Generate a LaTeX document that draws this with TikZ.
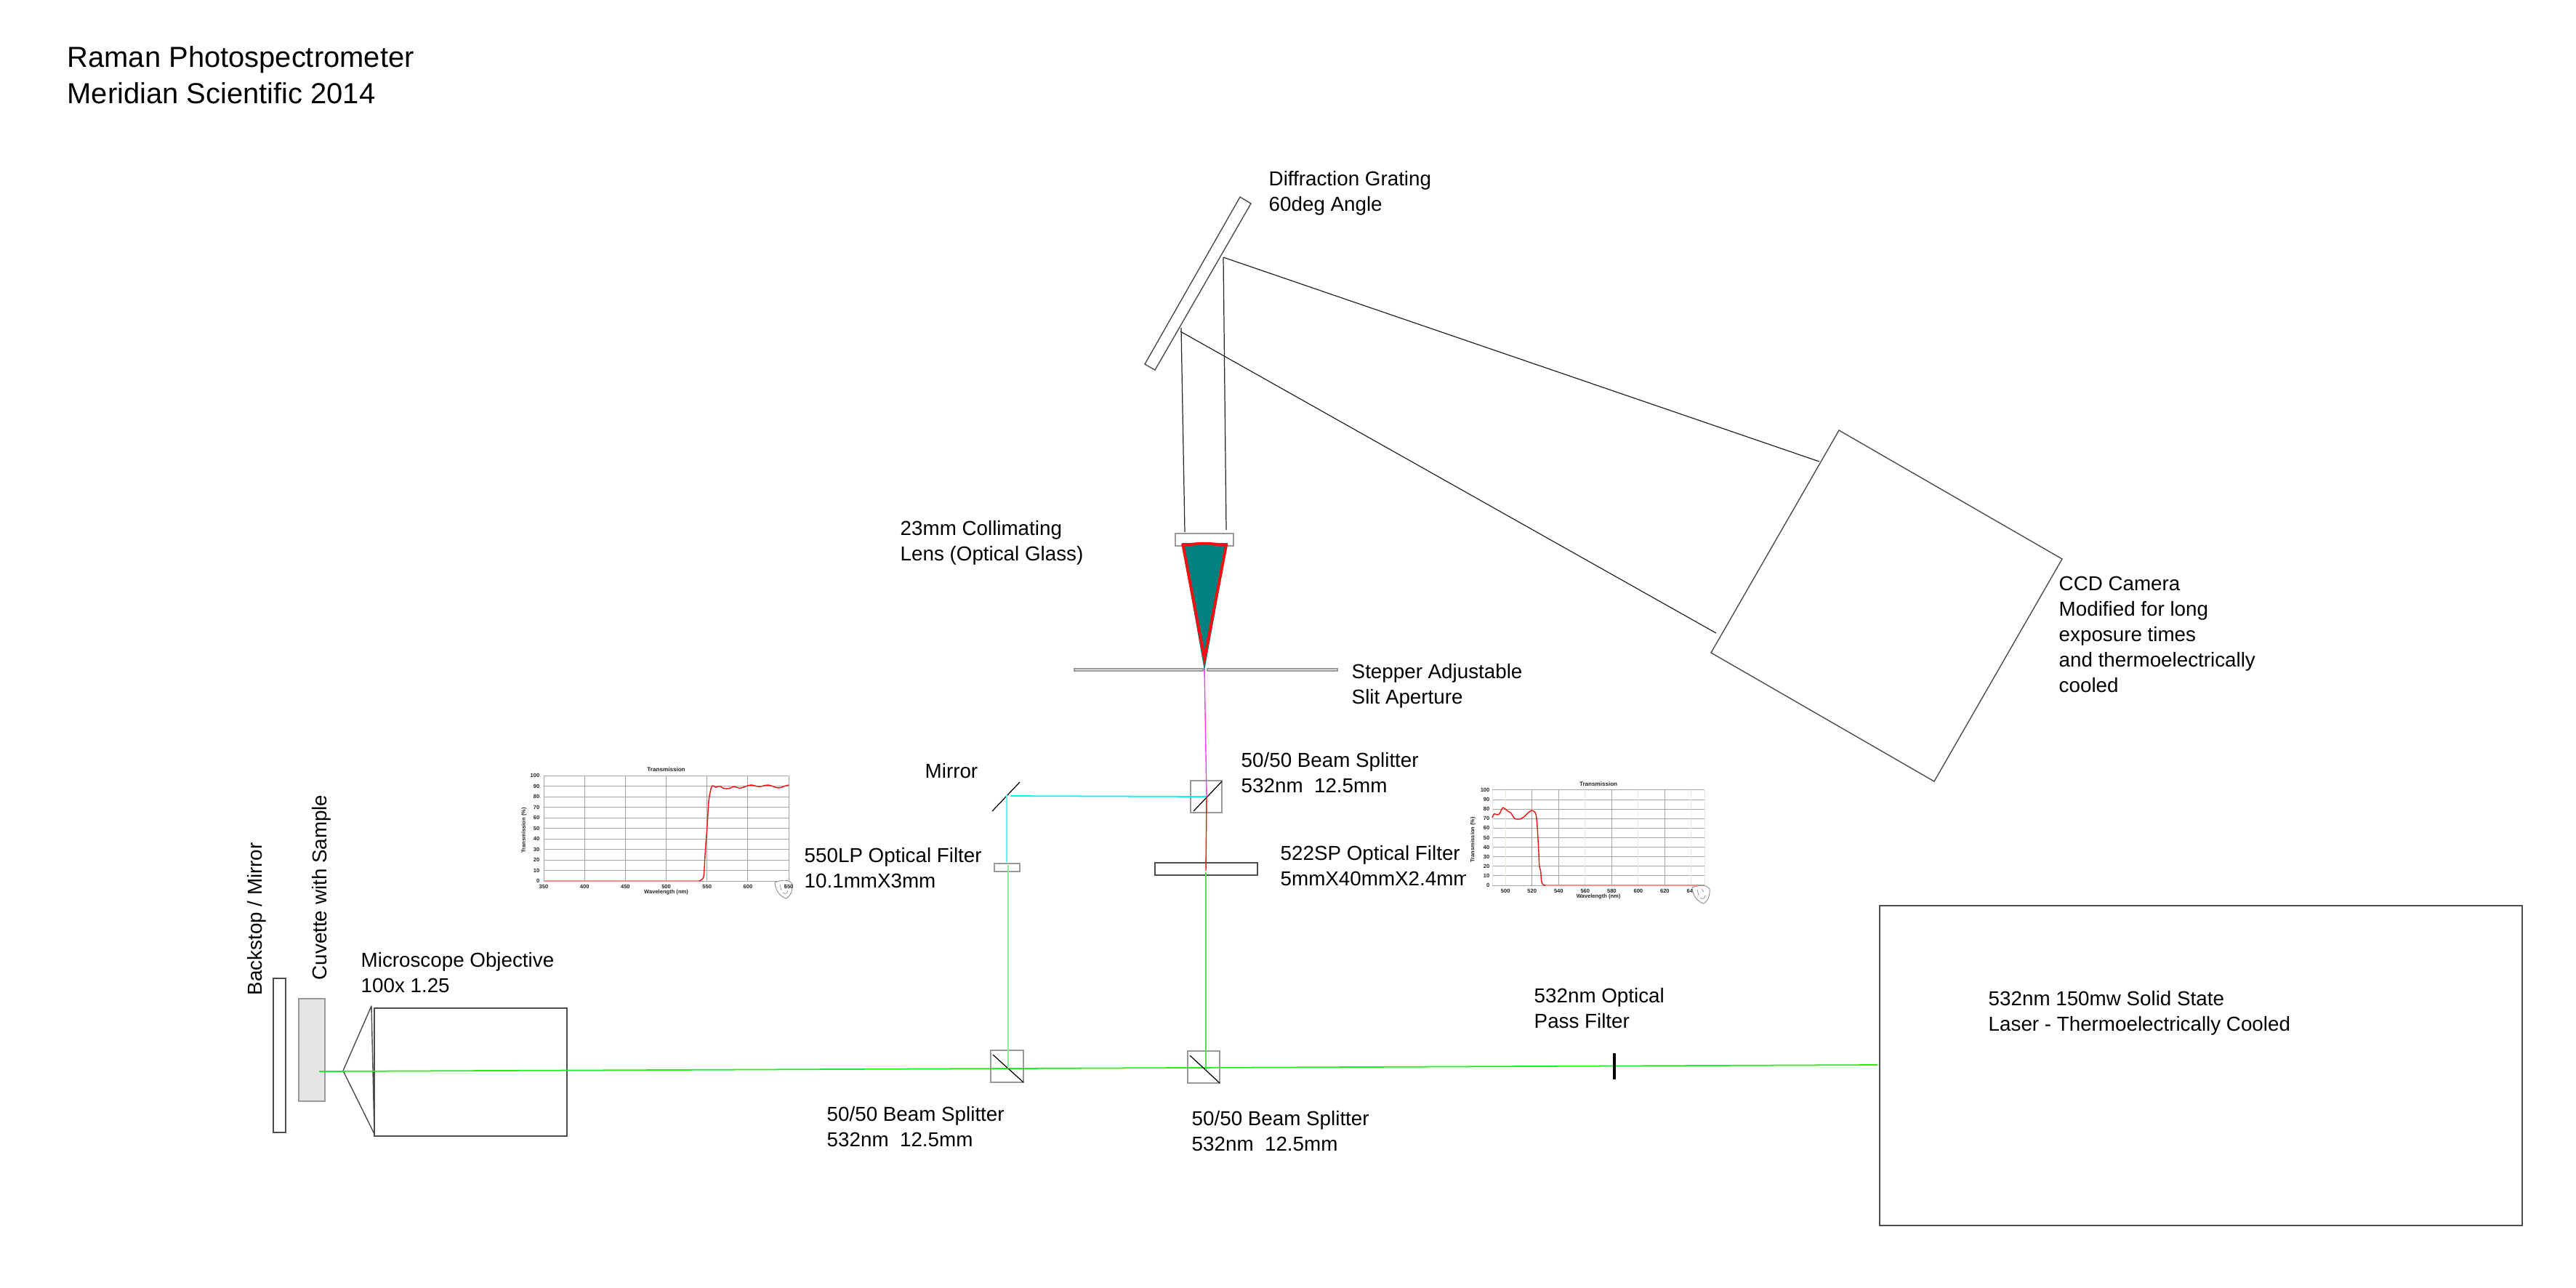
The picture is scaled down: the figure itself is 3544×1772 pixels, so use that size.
\documentclass[tikz,border=0pt]{standalone}
\usepackage{fontspec}
\setmainfont{Liberation Sans}
\usetikzlibrary{positioning}

\definecolor{beamgreen}{RGB}{30,240,30}
\definecolor{palegreen}{RGB}{140,240,140}
\definecolor{midgreen}{RGB}{85,225,85}
\definecolor{beamcyan}{RGB}{0,245,245}
\definecolor{palecyan}{RGB}{110,240,240}
\definecolor{beamred}{RGB}{245,15,15}
\definecolor{beammagenta}{RGB}{245,60,245}
\definecolor{lensteal}{RGB}{0,128,128}

\tikzset{
    label text/.style={inner sep=0pt, anchor=north west, align=left, font=\fontsize{7.9}{9.96}\selectfont},
    part/.style={draw=black!70, line width=0.4pt},
    soft part/.style={draw=black!40, line width=0.45pt},
    ray/.style={draw=black!85, line width=0.35pt},
    splitter/.style={draw=black, line width=0.35pt},
    green beam/.style={draw=beamgreen, line width=0.5pt},
    pale beam/.style={draw=palegreen, line width=0.65pt},
    tick text/.style={inner sep=0pt, font=\fontsize{2.15}{2.5}\selectfont\bfseries, text=black!85},
    head text/.style={inner sep=0pt, font=\fontsize{2.3}{2.6}\selectfont\bfseries, text=black!85},
    grid line/.style={draw=black!35, line width=0.25pt},
    pale grid/.style={draw=brown!20, line width=0.25pt},
    trace/.style={draw=beamred, line width=0.4pt, line join=round},
    stamp/.pic={
        \draw[fill=white, draw=black!45, line width=0.25pt] (-12,-9) .. controls (-2,-13) and (8,-13) .. (12,-7) .. controls (13,2) and (9,11) .. (3,13) .. controls (-4,10) and (-11,4) .. (-12,-9) -- cycle;
        \draw[draw=black!45, line width=0.2pt] (-5,-6) -- (-3,2) (1,-7) -- (4,-3) (-1,5) .. controls (2,8) and (6,6) .. (6,2);
    }
}

\begin{document}
\begin{tikzpicture}[x=0.01cm, y=-0.01cm]
    \useasboundingbox (0,0) rectangle (3544,1772);

    % title
    \node[label text, font=\fontsize{11.35}{14.2}\selectfont] (title) at (92,63) {Raman Photospectrometer\\Meridian Scientific 2014};

    % sample end
    \draw[part] (376,1346) rectangle (393,1558);
    \draw[soft part, fill=black!10] (411,1374) rectangle (447,1515);
    \draw[part] (515,1387) rectangle (780,1563);
    \draw[part, line join=round] (515,1560) -- (472,1473) -- (511,1384) -- cycle;
    \node[label text, rotate=90] (backstop) at (340,1370) {Backstop / Mirror};
    \node[label text, rotate=90] (cuvette) at (429,1349) {Cuvette with Sample};
    \node[label text] (objective) at (496,1310) {Microscope Objective\\100x 1.25};

    % main beam
    \coordinate (sampleend) at (439,1474);
    \coordinate (laserport) at (2583,1465);
    \coordinate (passtop) at (2221,1449);
    \coordinate (passbottom) at (2221,1485);
    \draw[green beam] (sampleend) -- (laserport);
    \draw[line width=1pt] (passtop) -- (passbottom);

    % beam splitters
    \draw[soft part] (1363,1445) rectangle (1408,1489);
    \draw[splitter] (1366,1451) -- (1408,1489);
    \draw[soft part] (1634,1446) rectangle (1678,1490);
    \draw[splitter] (1637,1452) -- (1678,1490);
    \draw[soft part] (1638,1074) rectangle (1681,1118);
    \draw[splitter] (1642,1116) -- (1681,1075);
    \draw[splitter] (1365,1116) -- (1403,1076);

    % filters
    \draw[soft part] (1368,1188) rectangle (1403,1199);
    \draw[part] (1589,1187) rectangle (1730,1204);

    % beams between filters and splitters
    \coordinate (lpgreen) at (1387,1190);
    \coordinate (lowleft) at (1387,1470);
    \coordinate (spgreen) at (1659,1200);
    \coordinate (lowright) at (1659,1472);
    \coordinate (lpcyan) at (1385,1186);
    \coordinate (mirrordown) at (1385,1093);
    \coordinate (mirrorright) at (1390,1095);
    \coordinate (upper) at (1660,1096);
    \coordinate (spred) at (1659,1198);
    \coordinate (slitgap) at (1657,920);
    \draw[pale beam] (lpgreen) -- (lowleft);
    \draw[draw=midgreen, line width=0.4pt] (spgreen) -- (lowright);
    \draw[draw=palecyan, line width=0.4pt] (lpcyan) -- (mirrordown);
    \draw[draw=beamcyan, line width=0.5pt] (mirrorright) -- (upper);
    \draw[draw=beamred, line width=0.4pt] (upper) -- (spred);
    \draw[draw=beammagenta, line width=0.4pt] (slitgap) -- (upper);

    % slit and lens
    \draw[soft part] (1478,920) rectangle (1655,923);
    \draw[soft part] (1661,920) rectangle (1840,923);
    \draw[soft part] (1617,734) rectangle (1697,751);
    \fill[fill=lensteal] (1626,747) -- (1689,747) -- (1657,923) -- cycle;
    \draw[draw=beamred, line width=1.1pt, line join=miter] (1627.5,750) .. controls (1657,747) .. (1687,750) -- (1657,906) -- cycle;

    % grating and camera
    \coordinate (lensleft) at (1630,732);
    \coordinate (lensright) at (1687,729);
    \coordinate (gratingleft) at (1625,451);
    \coordinate (gratingright) at (1683,354);
    \coordinate (gratingout) at (1624,456);
    \coordinate (cameraupper) at (2503,635);
    \coordinate (cameralower) at (2361,871);
    \draw[part] (1706,271) -- (1721,280) -- (1589,509) -- (1575,501) -- cycle;
    \draw[ray] (lensleft) -- (gratingleft);
    \draw[ray] (lensright) -- (gratingright);
    \draw[ray] (gratingright) -- (cameraupper);
    \draw[ray] (gratingout) -- (cameralower);
    \draw[part] (2530,592) -- (2837,769) -- (2661,1075) -- (2354,898) -- cycle;

    % laser
    \draw[part] (2586,1246) rectangle (3470,1686);

    % labels
    \node[label text] (grating) at (1745,235) {Diffraction Grating\\60deg Angle};
    \node[label text] (lens) at (1238,716) {23mm Collimating\\Lens (Optical Glass)};
    \node[label text] (slit) at (1859,913) {Stepper Adjustable\\Slit Aperture};
    \node[label text] (camera) at (2832,792) {CCD Camera\\Modified for long\\exposure times\\and thermoelectrically\\cooled};
    \node[label text] (topsplitter) at (1707,1035) {50/50 Beam Splitter\\532nm\ \ 12.5mm};
    \node[label text] (mirror) at (1272,1050) {Mirror};
    \node[label text] (lpfilter) at (1106,1166) {550LP Optical Filter\\10.1mmX3mm};
    \node[label text] (spfilter) at (1761,1163) {522SP Optical Filter\\5mmX40mmX2.4mm};
    \node[label text] (leftsplitter) at (1137,1522) {50/50 Beam Splitter\\532nm\ \ 12.5mm};
    \node[label text] (rightsplitter) at (1639,1528) {50/50 Beam Splitter\\532nm\ \ 12.5mm};
    \node[label text] (passfilter) at (2110,1359) {532nm Optical\\Pass Filter};
    \node[label text] (laser) at (2735,1363) {532nm 150mw Solid State\\Laser - Thermoelectrically Cooled};

    % chart of the 550LP filter
    \begin{scope}[shift={(748,1212)}, x=0.011233cm, y=0.0145cm]
        \foreach \v in {0,10,...,100} {
            \draw[grid line] (0,\v) -- (300,\v);
            \node[tick text, anchor=east] (lptick\v) at (-4.5,\v) {\v};
        }
        \foreach \v in {0,50,...,300} {
            \pgfmathtruncatemacro\nm{350+\v}
            \draw[grid line] (\v,0) -- (\v,100);
        }
        \draw[trace, draw=red!45] (0,0) -- (190,0);
        \draw[trace] plot[smooth, tension=0.4] coordinates {(190,0) (193,1) (196,5) (198,30) (200,50) (202,75) (204,85) (206,90) (208,90) (211,88.8) (215,90) (220,88) (224,87.5) (228,88) (233,89.5) (240,88) (245,89) (250,90.5) (255,91) (260,90) (265,89.5) (270,90.5) (275,91) (280,90) (285,88.5) (290,88.5) (295,90) (300,91)};
    \end{scope}
    \pic at (1078,1223) {stamp};
    \begin{scope}[shift={(748,1212)}, x=0.011233cm, y=0.0145cm]
        \foreach \v in {0,50,...,300} {
            \pgfmathtruncatemacro\nm{350+\v}
            \node[tick text] (lpnm\v) at (\v,-5.5) {\nm};
        }
        \node[head text] (lphead) at (150,105.5) {Transmission};
        \node[tick text] (lpfoot) at (150,-11) {Wavelength (nm)};
        \node[tick text, rotate=90] (lpside) at (-24,48) {Transmission (\%)};
    \end{scope}

    % chart of the 522SP filter
    \fill[white] (2017,1070) rectangle (2355,1250);
    \begin{scope}[shift={(2053,1218)}, x=0.01825cm, y=0.0131cm]
        \foreach \v in {0,10,...,100} {
            \draw[grid line] (0,\v) -- (160,\v);
            \node[tick text, anchor=east] (sptick\v) at (-1.6,\v) {\v};
        }
        \foreach \v in {10,30,...,150} {
            \pgfmathtruncatemacro\nm{490+\v}
            \node[tick text] (spnm\v) at (\v,-6) {\nm};
        }
        \foreach \v in {30,50,90,130} {
            \draw[grid line] (\v,0) -- (\v,100);
        }
        \foreach \v in {0,10,70,110,150,160} {
            \draw[pale grid] (\v,0) -- (\v,100);
        }
        \node[head text] (sphead) at (80,106) {Transmission};
        \node[tick text] (spfoot) at (80,-11.5) {Wavelength (nm)};
        \node[tick text, rotate=90] (spside) at (-14.5,48) {Transmission (\%)};
        \draw[trace, draw=red!45] (40,0) -- (160,0);
        \draw[trace] plot[smooth, tension=0.4] coordinates {(0,71) (1.5,75) (4,74) (5.5,75) (8,81.5) (12,77.5) (14,76) (17,70) (21,69.5) (24,72) (27,76) (29.5,78.5) (31.5,77.5) (33,74) (34,60) (35,35) (35.5,20) (36.5,15) (37,5) (38,1) (40,0)};
    \end{scope}
    \pic at (2340,1230) {stamp};
\end{tikzpicture}
\end{document}
